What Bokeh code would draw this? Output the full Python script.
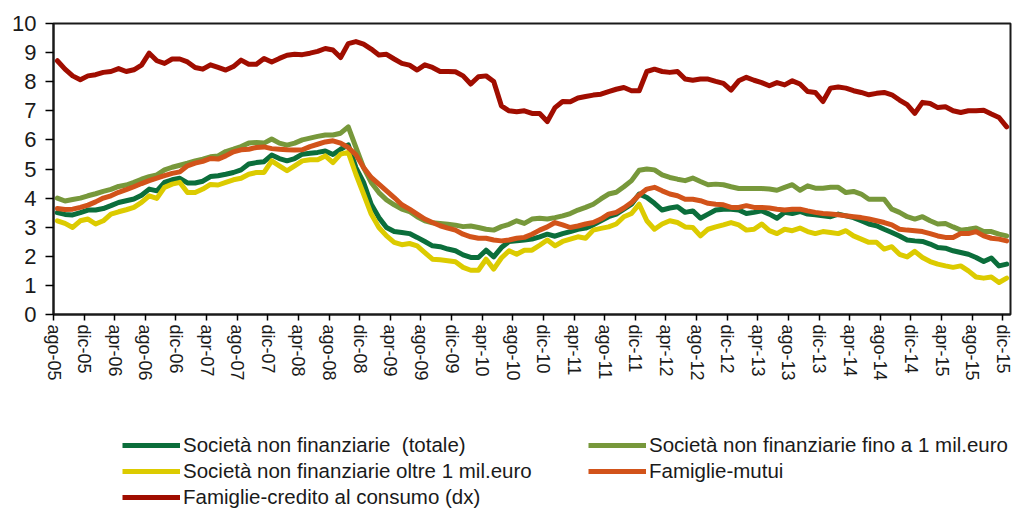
from bokeh.plotting import figure
from bokeh.layouts import column
from bokeh.models import Range1d, FixedTicker, Legend, LegendItem, ColumnDataSource
from bokeh.embed import file_html
from bokeh.resources import INLINE

# ---- data (monthly, ago-05 .. dic-15) ----
tick_labels = ["ago-05", "dic-05", "apr-06", "ago-06", "dic-06", "apr-07", "ago-07", "dic-07",
               "apr-08", "ago-08", "dic-08", "apr-09", "ago-09", "dic-09", "apr-10", "ago-10",
               "dic-10", "apr-11", "ago-11", "dic-11", "apr-12", "ago-12", "dic-12", "apr-13",
               "ago-13", "dic-13", "apr-14", "ago-14", "dic-14", "apr-15", "ago-15", "dic-15"]

snf_totale = [3.5, 3.44, 3.42, 3.5, 3.59, 3.59, 3.64, 3.74, 3.85, 3.91, 3.97, 4.1, 4.31, 4.25, 4.54, 4.63, 4.68, 4.52, 4.52, 4.58, 4.74,
              4.77, 4.82, 4.88, 4.97, 5.17, 5.22, 5.25, 5.48, 5.36, 5.28, 5.36, 5.51, 5.54, 5.57, 5.62, 5.5, 5.68, 5.83,
              5.05, 4.54, 3.79, 3.33, 2.99, 2.85, 2.82, 2.78, 2.65, 2.51, 2.36, 2.33, 2.25, 2.19, 2.05, 1.96, 1.96, 2.21, 1.98, 2.3,
              2.51, 2.53, 2.56, 2.59, 2.67, 2.76, 2.69, 2.78, 2.85, 2.93, 2.97, 3.08, 3.22, 3.36, 3.45, 3.62, 3.79, 4.14, 4.02, 3.82,
              3.59, 3.66, 3.7,
              3.51, 3.56, 3.31, 3.45, 3.59, 3.62, 3.62, 3.59, 3.47, 3.51, 3.56, 3.45, 3.31, 3.51, 3.47, 3.54, 3.45, 3.43, 3.39, 3.36,
              3.45, 3.39, 3.33, 3.22, 3.11, 3.05, 2.93, 2.82, 2.7, 2.56, 2.53, 2.51, 2.42, 2.3, 2.28, 2.19, 2.13, 2.07, 1.96, 1.82,
              1.94, 1.67, 1.73]

snf_fino1 = [4.0, 3.9, 3.95, 4.0, 4.08, 4.15, 4.23, 4.3, 4.4, 4.45, 4.54, 4.65, 4.74, 4.8, 4.97, 5.06, 5.13, 5.2, 5.28, 5.34, 5.42,
             5.45, 5.6, 5.68, 5.77, 5.89, 5.91, 5.89, 6.03, 5.89, 5.82, 5.89, 6.0, 6.06, 6.12, 6.17, 6.17, 6.23,
             6.45, 5.74, 5.05, 4.54, 4.19, 3.94, 3.77, 3.62, 3.54, 3.36, 3.22, 3.15, 3.13, 3.1, 3.07, 3.02, 3.04, 2.99, 2.93, 2.9,
             3.02, 3.1, 3.22, 3.13, 3.28, 3.31, 3.28, 3.33, 3.39, 3.47, 3.59, 3.68, 3.79, 3.97, 4.14, 4.2, 4.39, 4.6, 4.96, 5.0,
             4.97, 4.8, 4.71, 4.65,
             4.6, 4.69, 4.57, 4.46, 4.48, 4.46, 4.39, 4.33, 4.33, 4.33, 4.33, 4.31, 4.27, 4.37, 4.46, 4.27, 4.42, 4.34, 4.34, 4.37,
             4.37, 4.19, 4.23, 4.14, 3.96, 3.96, 3.96, 3.62, 3.51, 3.36, 3.28, 3.36, 3.22, 3.11, 3.13, 3.01, 2.9, 2.93, 2.97, 2.85,
             2.85, 2.76, 2.7]

snf_oltre1 = [3.22, 3.13, 2.99, 3.22, 3.28, 3.11, 3.22, 3.45, 3.53, 3.6, 3.68, 3.85, 4.08, 3.99, 4.37, 4.48, 4.54, 4.19, 4.19, 4.31, 4.47,
              4.45, 4.54, 4.63, 4.68, 4.82, 4.88, 4.88, 5.28, 5.11, 4.94, 5.11, 5.28, 5.32, 5.32, 5.45,
              5.22, 5.51, 5.57, 4.82, 4.14, 3.45, 2.99, 2.7, 2.48, 2.4, 2.44, 2.36, 2.13, 1.9, 1.88, 1.85, 1.81, 1.62, 1.52, 1.52,
              1.9, 1.56, 1.94, 2.19, 2.07, 2.21, 2.21, 2.38, 2.56, 2.36, 2.51, 2.59, 2.67, 2.62, 2.9, 2.96, 3.01, 3.11, 3.36, 3.47,
              3.79, 3.22, 2.93, 3.11, 3.22, 3.16,
              3.01, 2.99, 2.7, 2.93, 3.01, 3.08, 3.16, 3.08, 2.9, 2.93, 3.11, 2.88, 2.78, 2.93, 2.88, 2.97, 2.85, 2.78, 2.85, 2.82,
              2.78, 2.88, 2.7, 2.59, 2.48, 2.48, 2.25, 2.33, 2.07, 1.98, 2.17, 1.96, 1.82, 1.73, 1.67, 1.62, 1.67, 1.5, 1.29, 1.25,
              1.29, 1.1, 1.25]

famiglie_mutui = [3.64, 3.61, 3.62, 3.68, 3.76, 3.87, 4.0, 4.08, 4.2, 4.29, 4.39, 4.5, 4.6, 4.69, 4.77, 4.85, 4.9, 5.11, 5.2, 5.26, 5.36,
                  5.34, 5.45, 5.59, 5.66, 5.68, 5.74, 5.76, 5.7, 5.68, 5.66, 5.65, 5.66, 5.77, 5.85, 5.93,
                  5.97, 5.89, 5.74, 5.49, 5.05, 4.71, 4.48, 4.25, 4.02, 3.77, 3.62, 3.45, 3.28, 3.16, 3.05, 2.97, 2.9, 2.76, 2.67, 2.62,
                  2.62, 2.56, 2.53, 2.56, 2.62, 2.65, 2.76, 2.9, 3.01, 3.16, 3.08, 2.99, 3.04, 3.11, 3.16, 3.28, 3.45, 3.51, 3.66, 3.85,
                  4.11, 4.31, 4.37, 4.25, 4.14, 4.08,
                  3.96, 3.96, 3.91, 3.82, 3.79, 3.77, 3.68, 3.68, 3.74, 3.68, 3.68, 3.66, 3.62, 3.59, 3.62, 3.62, 3.56, 3.51, 3.47, 3.45,
                  3.43, 3.39, 3.36, 3.33, 3.28, 3.22, 3.16, 3.08, 2.93, 2.9, 2.88, 2.85, 2.78, 2.7, 2.65, 2.65, 2.78, 2.78, 2.85, 2.7,
                  2.62, 2.59, 2.53]

famiglie_consumo = [8.72, 8.43, 8.2, 8.07, 8.2, 8.24, 8.32, 8.35, 8.45, 8.35, 8.41, 8.57, 8.98, 8.72, 8.63, 8.78, 8.78, 8.68, 8.49, 8.43, 8.58,
                    8.49, 8.4, 8.52, 8.74, 8.6, 8.6, 8.8, 8.68, 8.8, 8.91, 8.94, 8.93, 8.98, 9.04, 9.14,
                    9.09, 8.83, 9.31, 9.38, 9.29, 9.12, 8.92, 8.94, 8.78, 8.63, 8.57, 8.4, 8.58, 8.49, 8.35, 8.35, 8.34, 8.2, 7.92, 8.17,
                    8.2, 8.01, 7.17, 7.0, 6.97, 7.0, 6.91, 6.91, 6.63, 7.11, 7.32, 7.31, 7.44, 7.49, 7.54, 7.57, 7.66, 7.74, 7.8, 7.69,
                    7.69, 8.35, 8.43, 8.35, 8.32, 8.35,
                    8.09, 8.05, 8.09, 8.09, 8.01, 7.94, 7.71, 8.03, 8.15, 8.05, 7.97, 7.86, 7.97, 7.89, 8.03, 7.92, 7.66, 7.63, 7.32, 7.78,
                    7.82, 7.78, 7.69, 7.63, 7.55, 7.6, 7.63, 7.55, 7.37, 7.21, 6.91, 7.29, 7.25, 7.11, 7.14, 7.0, 6.94, 7.0, 7.0, 7.02,
                    6.89, 6.77, 6.45]

series_names = ["Società non finanziarie  (totale)",
                "Società non finanziarie fino a 1 mil.euro",
                "Società non finanziarie oltre 1 mil.euro",
                "Famiglie-mutui",
                "Famiglie-credito al consumo (dx)"]
series_values = [snf_totale, snf_fino1, snf_oltre1, famiglie_mutui, famiglie_consumo]
series_colors = ["#0b6e3b", "#77983b", "#dccb00", "#d2531a", "#a00d00"]

n = len(snf_totale)
for s in series_values:
    assert len(s) == n, len(s)

x = [i + 0.5 for i in range(n)]
tick_pos = [4 * k for k in range(len(tick_labels))]

FONT = "'Liberation Sans', Arial, sans-serif"
W = 1013

p = figure(width=W, height=395, output_backend="svg", toolbar_location=None,
           x_range=Range1d(0, n), y_range=Range1d(0, 10))
p.min_border_left = 53
p.min_border_right = 3
p.min_border_top = 23
p.min_border_bottom = 81
p.background_fill_color = "white"
p.border_fill_color = "white"
p.outline_line_color = "#1a1a1a"
p.outline_line_width = 2
p.xgrid.visible = False
p.ygrid.visible = False

# y axis
p.yaxis.ticker = FixedTicker(ticks=list(range(0, 11)))
p.yaxis.major_tick_out = 8
p.yaxis.major_tick_in = 0
p.yaxis.minor_tick_line_color = None
p.yaxis.axis_line_color = "#1a1a1a"
p.yaxis.axis_line_width = 2
p.yaxis.major_tick_line_width = 1.5
p.yaxis.major_label_text_font = FONT
p.yaxis.major_label_text_font_size = "22px"
p.yaxis.major_label_text_color = "#1a1a1a"
p.yaxis.major_label_standoff = 9

# x axis
p.xaxis.ticker = FixedTicker(ticks=tick_pos)
p.xaxis.major_label_overrides = {t: lab for t, lab in zip(tick_pos, tick_labels)}
p.xaxis.major_label_orientation = "vertical"
p.xaxis.major_tick_out = 6
p.xaxis.major_tick_in = 0
p.xaxis.minor_tick_line_color = None
p.xaxis.axis_line_color = "#1a1a1a"
p.xaxis.axis_line_width = 2
p.xaxis.major_tick_line_width = 1.5
p.xaxis.major_label_text_font = FONT
p.xaxis.major_label_text_font_size = "18px"
p.xaxis.major_label_text_color = "#1a1a1a"
p.xaxis.major_label_standoff = 4

sources = []
for name, vals, col in zip(series_names, series_values, series_colors):
    src = ColumnDataSource(dict(x=x, y=vals))
    sources.append(src)
    p.line("x", "y", source=src, line_color=col, line_width=5,
           line_join="round", line_cap="round")

# legend figure below the chart (the legend is drawn from renderers of the same series)
lf = figure(width=W, height=115, output_backend="svg", toolbar_location=None,
            x_range=Range1d(0, n), y_range=Range1d(100, 101))
lf.axis.visible = False
lf.grid.visible = False
lf.outline_line_color = None
lf.min_border_left = 53
lf.min_border_right = 0
lf.min_border_top = 0
lf.min_border_bottom = 0
leg_renderers = []
for name, src, col in zip(series_names, sources, series_colors):
    r = lf.line("x", "y", source=src, line_color=col, line_width=5)
    leg_renderers.append(r)

def make_legend(idx, loc):
    lg = Legend(items=[LegendItem(label=series_names[i], renderers=[leg_renderers[i]]) for i in idx],
                location=loc, orientation="vertical", glyph_width=58, glyph_height=26,
                label_height=26, label_standoff=3, spacing=0, padding=0, margin=0,
                label_text_font=FONT, label_text_font_size="20.5px", label_text_color="#1a1a1a",
                border_line_color=None, background_fill_alpha=0)
    lf.add_layout(lg, "center")

make_legend([0, 2, 4], (69, 0))
make_legend([1, 3], (535, 26))

layout = column(p, lf, spacing=0)
open("out.html", "w").write(file_html(layout, INLINE))
